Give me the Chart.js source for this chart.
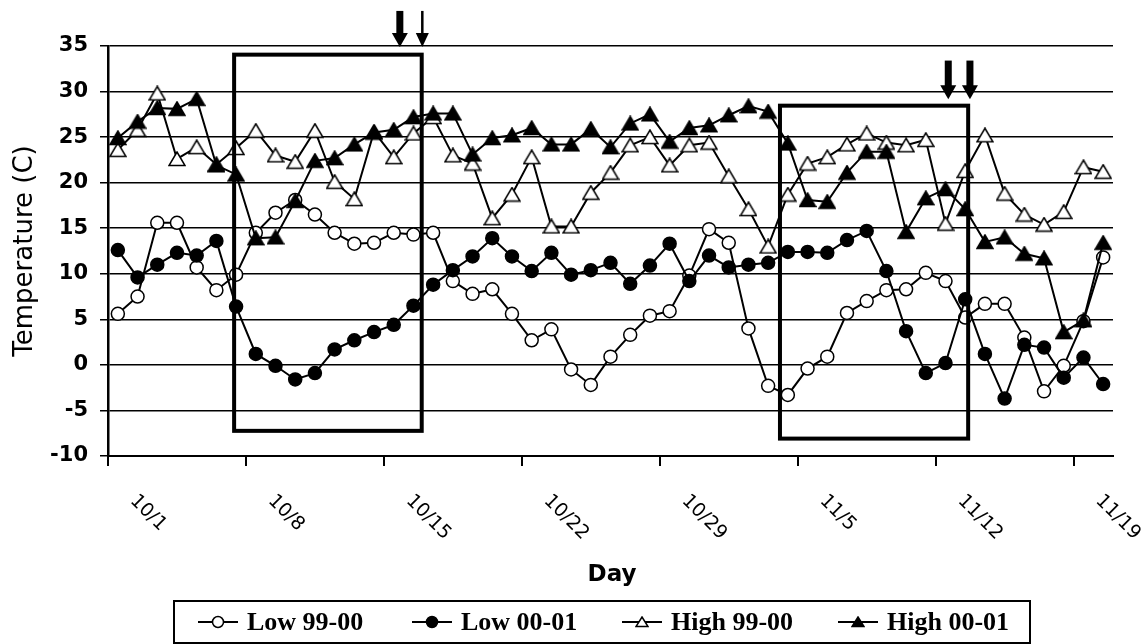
<!DOCTYPE html>
<html>
<head>
<meta charset="utf-8">
<script src="https://cdn.jsdelivr.net/npm/chart.js@4.4.1/dist/chart.umd.min.js"></script>
<style>
  html, body { margin: 0; padding: 0; background: #fff; }
  #wrap { width: 1146px; height: 644px; }
</style>
</head>
<body>
<div id="wrap"><canvas id="c" width="1146" height="644"></canvas></div>
<script>
// ---- Data ----
const categories = [
  "10/1","10/2","10/3","10/4","10/5","10/6","10/7","10/8","10/9","10/10",
  "10/11","10/12","10/13","10/14","10/15","10/16","10/17","10/18","10/19","10/20",
  "10/21","10/22","10/23","10/24","10/25","10/26","10/27","10/28","10/29","10/30",
  "10/31","11/1","11/2","11/3","11/4","11/5","11/6","11/7","11/8","11/9",
  "11/10","11/11","11/12","11/13","11/14","11/15","11/16","11/17","11/18","11/19",
  "11/20"
];
const tickLabels = ["10/1","10/8","10/15","10/22","10/29","11/5","11/12","11/19"];
const seriesNames = ["Low 99-00", "Low 00-01", "High 99-00", "High 00-01"];

const low9900 = [5.6,7.5,15.6,15.6,10.7,8.2,9.9,14.5,16.7,18.1,
  16.5,14.5,13.3,13.4,14.5,14.3,14.5,9.2,7.8,8.3,
  5.6,2.7,3.9,-0.5,-2.2,0.9,3.3,5.4,5.9,9.8,
  14.9,13.4,4.0,-2.3,-3.3,-0.4,0.9,5.7,7.0,8.2,
  8.3,10.1,9.2,5.2,6.7,6.7,3.0,-2.9,-0.1,4.8,
  11.8];
const low0001 = [12.6,9.6,11.0,12.3,12.0,13.6,6.4,1.2,-0.1,-1.6,
  -0.9,1.7,2.7,3.6,4.4,6.5,8.8,10.4,11.9,13.9,
  11.9,10.3,12.3,9.9,10.4,11.2,8.9,10.9,13.3,9.2,
  12.0,10.7,11.0,11.2,12.4,12.4,12.3,13.7,14.7,10.3,
  3.7,-0.9,0.2,7.2,1.2,-3.7,2.2,1.9,-1.4,0.8,
  -2.1];
const high9900 = [23.6,25.8,29.8,22.6,23.9,22.0,23.8,25.7,23.0,22.3,
  25.7,20.1,18.2,25.6,22.8,25.4,27.2,23.0,22.1,16.1,
  18.7,22.8,15.2,15.2,18.9,21.1,24.1,25.0,21.9,24.1,
  24.4,20.7,17.1,13.0,18.7,22.1,22.8,24.2,25.4,24.4,
  24.1,24.7,15.5,21.3,25.2,18.8,16.5,15.4,16.8,21.7,
  21.2];
const high0001 = [24.9,26.7,28.2,28.1,29.2,21.9,20.9,13.9,14.0,18.0,
  22.4,22.7,24.2,25.5,25.8,27.2,27.6,27.6,23.1,24.9,
  25.2,26.0,24.2,24.2,25.9,23.9,26.5,27.5,24.5,26.0,
  26.3,27.4,28.4,27.8,24.3,18.1,17.9,21.1,23.4,23.4,
  14.6,18.3,19.3,17.1,13.5,14.0,12.2,11.7,3.6,4.9,
  13.4];

// Annotation boxes and arrows, in data units (category index, temperature)
const boxX0 = [5.9, 33.6];
const boxX1 = [15.42, 43.15];
const boxYTop = [34.05, 28.45];
const boxYBottom = [-7.24, -8.09];
const arrowX = [14.31, 15.45, 42.14, 43.24];
const arrowYTop = [38.85, 38.85, 33.4, 33.4];
const arrowYTip = [34.9, 34.9, 29.15, 29.15];
const arrowThick = [true, false, true, true];

// ---- Chart ----
const BLACK = '#000000';

function triangleImage(filled, w, h) {
  const c = document.createElement('canvas');
  c.width = w; c.height = h;
  const g = c.getContext('2d');
  g.beginPath();
  g.moveTo(w / 2, 1);
  g.lineTo(w - 1, h - 1.5);
  g.lineTo(1, h - 1.5);
  g.closePath();
  g.fillStyle = filled ? BLACK : '#ffffff';
  g.fill();
  g.lineWidth = 1.5; g.strokeStyle = BLACK; g.lineJoin = 'miter';
  g.stroke();
  return c;
}
const triOpen = triangleImage(false, 18, 16);
const triFilled = triangleImage(true, 18, 16);
const triOpenSmall = triangleImage(false, 14, 12);
const triFilledSmall = triangleImage(true, 14, 12);

function ds(label, data, style, filled, r, order) {
  return {
    label, data, order,
    borderColor: BLACK, borderWidth: 2, tension: 0,
    pointStyle: style, pointRadius: r, pointHoverRadius: r,
    pointBackgroundColor: filled ? BLACK : '#ffffff',
    pointBorderColor: BLACK, pointBorderWidth: 1.5,
    fill: false
  };
}

const overlay = {
  id: 'overlay',
  afterDraw(chart) {
    const ctx = chart.ctx;
    const xs = chart.scales.x, ys = chart.scales.y;
    const half = (xs.getPixelForValue(1) - xs.getPixelForValue(0)) / 2;
    ctx.save();

    // boxes
    ctx.strokeStyle = BLACK; ctx.lineWidth = 4; ctx.lineJoin = 'miter';
    for (let i = 0; i < boxX0.length; i++) {
      const x0 = xs.getPixelForValue(boxX0[i]), x1 = xs.getPixelForValue(boxX1[i]);
      const y0 = ys.getPixelForValue(boxYTop[i]), y1 = ys.getPixelForValue(boxYBottom[i]);
      ctx.strokeRect(x0, y0, x1 - x0, y1 - y0);
    }

    // arrows
    ctx.fillStyle = BLACK;
    for (let i = 0; i < arrowX.length; i++) {
      const x = xs.getPixelForValue(arrowX[i]);
      const yt = ys.getPixelForValue(arrowYTop[i]);
      const yp = ys.getPixelForValue(arrowYTip[i]);
      const sw = arrowThick[i] ? 7 : 2.5;
      const hw = arrowThick[i] ? 16 : 13;
      const hl = 14;
      ctx.fillRect(x - sw / 2, yt, sw, (yp - hl) - yt + 1);
      ctx.beginPath();
      ctx.moveTo(x - hw / 2, yp - hl);
      ctx.lineTo(x + hw / 2, yp - hl);
      ctx.lineTo(x, yp);
      ctx.closePath();
      ctx.fill();
    }

    // x tick labels (rotated clockwise)
    ctx.font = '19px "DejaVu Sans"';
    ctx.textAlign = 'left'; ctx.textBaseline = 'middle';
    tickLabels.forEach(lbl => {
      const idx = categories.indexOf(lbl);
      const bx = xs.getPixelForValue(idx) - half;
      ctx.save();
      ctx.translate(bx + 25, xs.top + 42);
      ctx.rotate(Math.PI / 4);
      ctx.fillText(lbl, 0, 0);
      ctx.restore();
    });

    // axis titles
    ctx.font = 'bold 23px "DejaVu Sans"';
    ctx.textAlign = 'center'; ctx.textBaseline = 'middle';
    ctx.fillText('Day', 612, 575);
    ctx.save();
    ctx.translate(25, (chart.chartArea.top + chart.chartArea.bottom) / 2);
    ctx.rotate(-Math.PI / 2);
    ctx.font = '26px "DejaVu Sans"';
    ctx.fillText('Temperature (C)', 0, 0);
    ctx.restore();

    // legend
    ctx.lineWidth = 2;
    ctx.strokeRect(174, 601, 856, 42);
    const legX = [198, 412, 622, 838];
    const ly = 622;
    const styles = [['circle', false], ['circle', true], ['triangle', false], ['triangle', true]];
    ctx.font = 'bold 26px "Liberation Serif"';
    ctx.textAlign = 'left'; ctx.textBaseline = 'middle';
    for (let i = 0; i < 4; i++) {
      const x0 = legX[i];
      ctx.beginPath(); ctx.moveTo(x0, ly); ctx.lineTo(x0 + 40, ly);
      ctx.lineWidth = 2; ctx.strokeStyle = BLACK; ctx.stroke();
      const cx = x0 + 20;
      if (styles[i][0] === 'circle') {
        ctx.beginPath();
        ctx.arc(cx, ly, 5.5, 0, Math.PI * 2);
        ctx.fillStyle = styles[i][1] ? BLACK : '#ffffff';
        ctx.fill();
        ctx.lineWidth = 1.5; ctx.stroke();
      } else {
        const img = styles[i][1] ? triFilledSmall : triOpenSmall;
        ctx.drawImage(img, cx - img.width / 2, ly - img.height / 2);
      }
      ctx.fillStyle = BLACK;
      ctx.fillText(seriesNames[i], x0 + 49, ly + 1);
    }
    ctx.restore();
  }
};

new Chart(document.getElementById('c'), {
  type: 'line',
  data: {
    labels: categories,
    datasets: [
      ds(seriesNames[0], low9900, 'circle', false, 6.5, 4),
      ds(seriesNames[1], low0001, 'circle', true, 6.5, 3),
      ds(seriesNames[2], high9900, triOpen, false, 9, 2),
      ds(seriesNames[3], high0001, triFilled, true, 9, 1)
    ]
  },
  options: {
    responsive: false,
    animation: false,
    events: [],
    layout: { padding: { top: 46, right: 33, left: 0, bottom: 0 } },
    plugins: { legend: { display: false }, tooltip: { enabled: false }, title: { display: false } },
    scales: {
      x: {
        type: 'category',
        offset: true,
        afterFit: s => { s.height = 188; },
        ticks: { display: false },
        grid: {
          offset: true,
          drawOnChartArea: false,
          drawTicks: true,
          tickLength: 10,
          lineWidth: 2,
          color: c => (typeof c.index === 'number' && c.index % 7 === 0) ? BLACK : 'rgba(0,0,0,0)'
        },
        border: { display: true, color: BLACK, width: 2 }
      },
      y: {
        min: -10, max: 35,
        afterFit: s => { s.width = 108; },
        ticks: {
          stepSize: 5, padding: 12, color: BLACK,
          font: { family: 'DejaVu Sans', size: 21, weight: 'bold' }
        },
        grid: { color: BLACK, lineWidth: 1.5, drawTicks: true, tickLength: 8 },
        border: { display: true, color: BLACK, width: 2.5 }
      }
    }
  },
  plugins: [overlay]
});
</script>
</body>
</html>
